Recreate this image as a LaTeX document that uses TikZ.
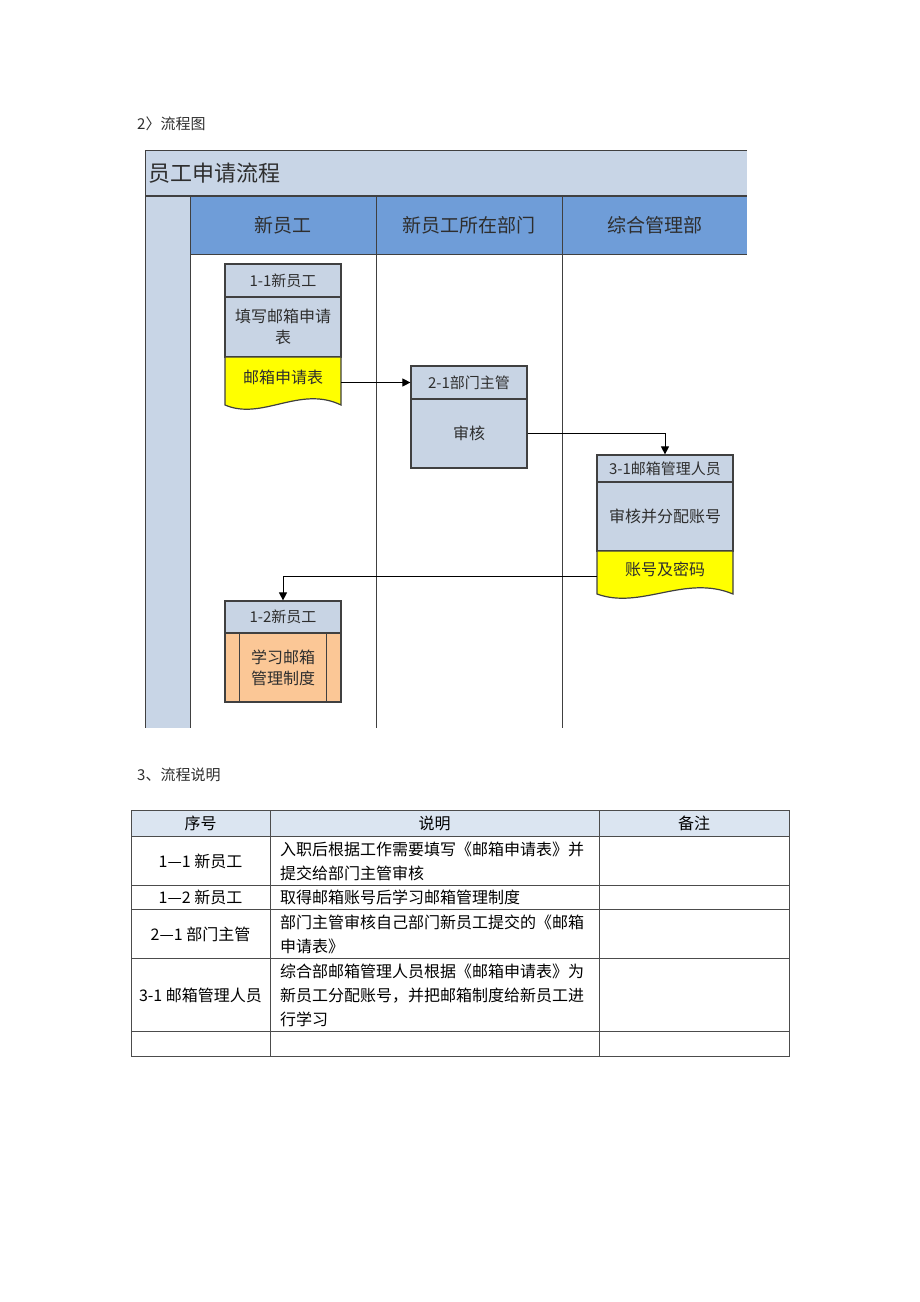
\documentclass[tikz,border=0pt]{standalone}
\usepackage{fontspec}
\setmainfont{Noto Sans CJK SC}
\usetikzlibrary{arrows.meta}
\definecolor{bandblue}{HTML}{C8D5E6}
\definecolor{laneblue}{HTML}{6F9DD8}
\definecolor{boxblue}{HTML}{C8D4E4}
\definecolor{docyellow}{HTML}{FFFF00}
\definecolor{studyorange}{HTML}{FBC796}
\definecolor{headblue}{HTML}{DBE5F1}
\definecolor{linegray}{HTML}{404040}
\definecolor{textgray}{HTML}{2E2E2E}

\begin{document}
\begin{tikzpicture}[
    x = 1pt,
    y = -1pt,
    >={Triangle[length=8pt,width=8pt]},
    every node/.style = {text=textgray, inner sep=0pt},
    caption/.style = {anchor=west, font=\fontsize{15}{18}\selectfont},
    lane/.style = {fill=laneblue, minimum height=58pt, font=\fontsize{19}{22}\selectfont},
    stephead/.style = {draw=linegray, fill=boxblue, line width=1.2pt,
              minimum width=116pt, font=\fontsize{15}{17}\selectfont},
    stepbody/.style = {draw=linegray, fill=boxblue, line width=1.2pt,
              minimum width=116pt, align=center, font=\fontsize{16}{21}\selectfont},
    doctext/.style = {minimum width=116pt, font=\fontsize{16}{20}\selectfont},
    doc/.style = {draw=linegray, fill=docyellow, line width=1.2pt},
    frame/.style = {linegray, line width=1pt},
    flow/.style = {->, black, line width=1pt},
    gridline/.style = {black!70, line width=0.8pt},
    cell/.style = {text=black, font=\fontsize{16}{24}\selectfont},
    ]

\useasboundingbox (0,0) rectangle (920,1302);

\node[caption] (sect_chart) at (137,124) {2〉流程图};

\fill[bandblue] (145,150) rectangle (747,196);
\fill[bandblue] (145,196) rectangle (190,728);
\node[anchor=west, font=\fontsize{22}{26}\selectfont] (pool_title) at (148,173) {员工申请流程};

\node[lane, minimum width=186pt] (lane_new) at (283,225) {新员工};
\node[lane, minimum width=186pt] (lane_dept) at (469,225) {新员工所在部门};
\node[lane, minimum width=185pt] (lane_admin) at (654.5,225) {综合管理部};

\draw[frame] (747,150) -- (145,150) -- (145,728);
\draw[linegray, line width=2.5pt] (145,196) -- (747,196);
\draw[frame] (190,196) -- (190,728);
\draw[frame] (190,254) -- (747,254);
\draw[frame] (376,196) -- (376,728);
\draw[frame] (562,196) -- (562,728);

\node[stephead, minimum height=33pt] (step_11_head) at (283,280.5) {1-1新员工};
\node[stepbody, minimum height=60pt] (step_11_body) at (283,327) {填写邮箱申请\\表};
\draw[doc] (225,357) -- (341,357) -- (341,405) .. controls (300,385) and (262,421) .. (225,405) -- cycle;
\node[doctext] (step_11_doc) at (283,377) {邮箱申请表};

\node[stephead, minimum height=33pt] (step_21_head) at (469,382.5) {2-1部门主管};
\node[stepbody, minimum height=69pt] (step_21_body) at (469,433.5) {审核};

\node[stephead, minimum width=136pt, minimum height=27pt] (step_31_head) at (665,468.5) {3-1邮箱管理人员};
\node[stepbody, minimum width=136pt, minimum height=69pt] (step_31_body) at (665,516.5) {审核并分配账号};
\draw[doc] (597,551) -- (733,551) -- (733,594) .. controls (685,574) and (641,610) .. (597,594) -- cycle;
\node[doctext, minimum width=136pt] (step_31_doc) at (665,569) {账号及密码};

\node[stephead, minimum height=32pt] (step_12_head) at (283,617) {1-2新员工};
\node[stepbody, fill=studyorange, minimum height=69pt] (step_12_body) at (283,667.5) {学习邮箱\\管理制度};
\draw[linegray, line width=1.2pt] ([xshift=15pt]step_12_body.north west) -- ([xshift=15pt]step_12_body.south west);
\draw[linegray, line width=1.2pt] ([xshift=-15pt]step_12_body.north east) -- ([xshift=-15pt]step_12_body.south east);

\draw[flow] (step_11_doc.east |- step_21_head.west) -- (step_21_head.west);
\draw[flow] (step_21_body.east) -| (step_31_head.north);
\draw[flow] ([yshift=-7pt]step_31_doc.west) -| (step_12_head.north);

\node[caption] (sect_desc) at (137,775) {3、流程说明};

\fill[headblue] (131,810) rectangle (789,836);
\draw[gridline] (131,810) rectangle (789,1056);
\foreach \y in {836,885,909,958,1031}
    \draw[gridline] (131,\y) -- (789,\y);
\foreach \x in {270,599}
    \draw[gridline] (\x,810) -- (\x,1056);

\node[cell] (head_no) at (200.5,823) {序号};
\node[cell] (head_desc) at (434.5,823) {说明};
\node[cell] (head_note) at (694,823) {备注};

\node[cell] (no_11) at (200.5,861) {1—1 新员工};
\node[cell] (no_12) at (200.5,897) {1—2 新员工};
\node[cell] (no_21) at (200.5,934) {2—1 部门主管};
\node[cell] (no_31) at (200.5,995) {3-1 邮箱管理人员};

\node[cell, anchor=west, align=left] (desc_11) at (280,861)
    {入职后根据工作需要填写《邮箱申请表》并\\提交给部门主管审核};
\node[cell, anchor=west, align=left] (desc_12) at (280,897)
    {取得邮箱账号后学习邮箱管理制度};
\node[cell, anchor=west, align=left] (desc_21) at (280,934)
    {部门主管审核自己部门新员工提交的《邮箱\\申请表》};
\node[cell, anchor=west, align=left] (desc_31) at (280,995)
    {综合部邮箱管理人员根据《邮箱申请表》为\\新员工分配账号，并把邮箱制度给新员工进\\行学习};

\end{tikzpicture}
\end{document}
